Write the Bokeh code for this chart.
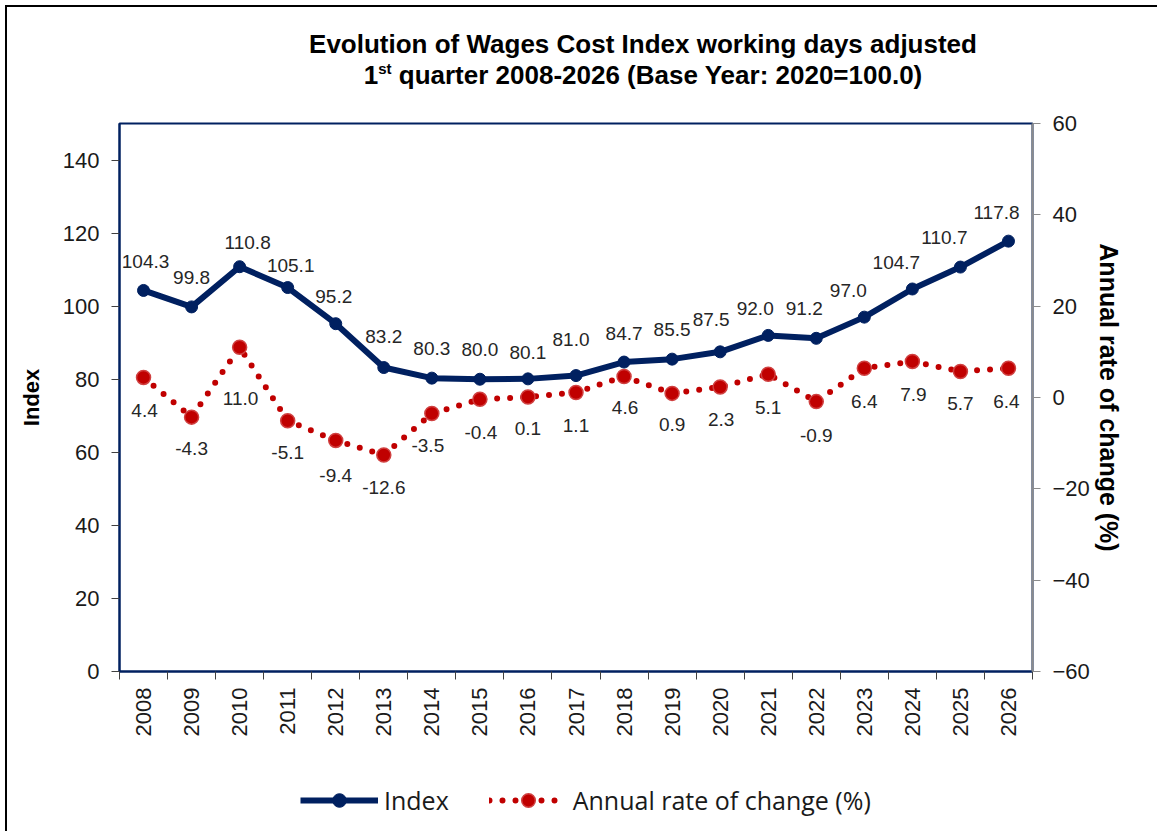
import math
from bokeh.plotting import figure
from bokeh.layouts import column
from bokeh.models import (Range1d, LinearAxis, FixedTicker, Legend,
                          LegendItem, ColumnDataSource, Div)
from bokeh.core.properties import value
from bokeh.embed import file_html
from bokeh.resources import INLINE

# ---------------- data ----------------
years = ["2008", "2009", "2010", "2011", "2012", "2013", "2014", "2015", "2016",
         "2017", "2018", "2019", "2020", "2021", "2022", "2023", "2024", "2025", "2026"]
index_values = [104.3, 99.8, 110.8, 105.1, 95.2, 83.2, 80.3, 80.0, 80.1, 81.0,
                84.7, 85.5, 87.5, 92.0, 91.2, 97.0, 104.7, 110.7, 117.8]
rate_values = [4.4, -4.3, 11.0, -5.1, -9.4, -12.6, -3.5, -0.4, 0.1, 1.1,
               4.6, 0.9, 2.3, 5.1, -0.9, 6.4, 7.9, 5.7, 6.4]
left_ticks = [0, 20, 40, 60, 80, 100, 120, 140]
right_ticks = [-60, -40, -20, 0, 20, 40, 60]
title_line1 = "Evolution of Wages Cost Index working days adjusted"
title_line2_num = "1"
title_line2_sup = "st"
title_line2_rest = "quarter 2008-2026 (Base Year: 2020=100.0)"
series_names = ["Index", "Annual rate of change (%)"]

# label placement (screen pixels)
index_label_dx = [2, 0, 8, 3, -2, 0, 0, 0, 0, -5, 0, 0, -9, -13, -12, -16, -16, -16, -12]
index_label_dy = [-29, -29, -24, -22, -27, -31, -30, -30, -26, -36, -29, -30, -32, -27, -30, -27, -26, -30, -29]
rate_label_dx = [1, 0, 1, 0, 0, 0, -4, 1, 0, 0, 1, 0, 1, 0, 0, 0, 1, 0, -2]
rate_label_dy = [33, 31, 51, 32, 35, 32, 32, 33, 31, 33, 31, 31, 33, 33, 34, 33, 33, 32, 33]

NAVY = "#002060"
RED = "#C00000"
FONT = "Liberation Sans"
TXT = "#1a1a1a"

xs = list(range(len(years)))

# ---------------- title ----------------
title_html = (
    '<div style="padding-top:22px; margin-left:286px; width:700px; text-align:center; '
    'white-space:nowrap; font-family:\'Liberation Sans\', Arial, sans-serif; font-weight:bold; '
    'font-size:26px; line-height:31px; color:#000;">'
    f'{title_line1}<br>{title_line2_num}'
    f'<span style="font-size:15px; position:relative; top:-10px;">{title_line2_sup}</span> '
    f'{title_line2_rest}</div>'
)
title_div = Div(text=title_html, width=1145, height=90, margin=0)

# ---------------- main chart ----------------
p = figure(frame_width=913, frame_height=548,
           min_border_left=112, min_border_right=125,
           min_border_top=26, min_border_bottom=80,
           x_range=Range1d(-0.5, len(years) - 0.5), y_range=Range1d(0, 150),
           x_axis_type=None, y_axis_type=None,
           output_backend="svg", toolbar_location=None, margin=0)
p.extra_y_ranges = {"rate": Range1d(-60, 60)}
p.outline_line_color = NAVY
p.outline_line_width = 2
p.background_fill_color = "white"
p.border_fill_color = "white"

la = LinearAxis(ticker=FixedTicker(ticks=left_ticks), axis_label=series_names[0])
la.axis_line_color = NAVY
la.axis_line_width = 2
la.major_tick_out = 8
la.major_tick_in = 0
la.minor_tick_out = 0
la.major_tick_line_color = "#404040"
la.major_label_standoff = 12
la.major_label_text_font = FONT
la.major_label_text_font_size = "22px"
la.major_label_text_color = TXT
la.axis_label_text_font = FONT
la.axis_label_text_font_size = "22px"
la.axis_label_text_font_style = "bold"
la.axis_label_text_color = "#000000"
la.axis_label_standoff = 16
p.add_layout(la, "left")

xa = LinearAxis(ticker=FixedTicker(ticks=xs, minor_ticks=[k - 0.5 for k in range(len(years) + 1)]))
xa.major_label_overrides = {i: y for i, y in zip(xs, years)}
xa.major_label_orientation = math.pi / 2
xa.major_tick_out = 0
xa.major_tick_in = 0
xa.minor_tick_out = 8
xa.minor_tick_in = 0
xa.minor_tick_line_color = "#404040"
xa.axis_line_color = NAVY
xa.axis_line_width = 2
xa.major_label_standoff = 8
xa.major_label_text_font = FONT
xa.major_label_text_font_size = "22px"
xa.major_label_text_color = TXT
p.add_layout(xa, "below")

ra = LinearAxis(y_range_name="rate", ticker=FixedTicker(ticks=right_ticks),
                axis_label=series_names[1])
ra.axis_line_color = "#8c8c8c"
ra.axis_line_width = 2
ra.major_tick_out = 8
ra.major_tick_in = 0
ra.minor_tick_out = 0
ra.major_tick_line_color = "#8c8c8c"
ra.major_label_standoff = 12
ra.major_label_text_font = FONT
ra.major_label_text_font_size = "22px"
ra.major_label_text_color = TXT
ra.axis_label_text_font = FONT
ra.axis_label_text_font_size = "25px"
ra.axis_label_text_font_style = "bold"
ra.axis_label_text_color = "#000000"
ra.axis_label_standoff = 2
p.add_layout(ra, "right")

idx_src = ColumnDataSource(dict(x=xs, y=index_values,
                                lab=[f"{v:.1f}" for v in index_values],
                                dx=index_label_dx, dy=index_label_dy))
rate_src = ColumnDataSource(dict(x=xs, y=rate_values,
                                 lab=[f"{v:.1f}" for v in rate_values],
                                 dx=rate_label_dx, dy=rate_label_dy))

RATE_LINE = dict(line_color=RED, line_width=6, line_dash="0 13", line_cap="round")
RATE_PTS = dict(fill_color=RED, line_color="#d04040", line_width=1.5)
IDX_LINE = dict(line_color=NAVY, line_width=6, line_join="round")
IDX_PTS = dict(fill_color=NAVY, line_color=NAVY)

p.line("x", "y", source=rate_src, y_range_name="rate", **RATE_LINE)
p.scatter("x", "y", source=rate_src, y_range_name="rate", size=14, **RATE_PTS)
p.line("x", "y", source=idx_src, **IDX_LINE)
p.scatter("x", "y", source=idx_src, size=12, **IDX_PTS)

p.text("x", "y", text="lab", source=idx_src, x_offset="dx", y_offset="dy",
       text_align="center", text_baseline="middle", text_font=value(FONT),
       text_font_size="19px", text_color="#262626")
p.text("x", "y", text="lab", source=rate_src, y_range_name="rate",
       x_offset="dx", y_offset="dy",
       text_align="center", text_baseline="middle", text_font=value(FONT),
       text_font_size="19px", text_color="#262626")

# ---------------- legend strip ----------------
# the legend lives in its own strip; its renderers share the series' data but the
# strip's ranges keep them out of view, so only the legend swatches are drawn
lf = figure(width=1145, height=80, x_range=Range1d(1000, 1001), y_range=Range1d(1000, 1001),
            x_axis_type=None, y_axis_type=None, min_border=0,
            output_backend="svg", toolbar_location=None, margin=0)
lf.outline_line_color = None
lf.background_fill_color = "white"
lf.border_fill_color = "white"
l_idx_line = lf.line("x", "y", source=idx_src, **IDX_LINE)
l_idx_pts = lf.scatter("x", "y", source=idx_src, size=12, **IDX_PTS)
l_rate_line = lf.line("x", "y", source=rate_src, **RATE_LINE)
l_rate_pts = lf.scatter("x", "y", source=rate_src, size=14, **RATE_PTS)

legend = Legend(items=[LegendItem(label=series_names[0], renderers=[l_idx_line, l_idx_pts], index=0),
                       LegendItem(label=series_names[1], renderers=[l_rate_line, l_rate_pts], index=0)],
                location=(181, 14), orientation="horizontal",
                glyph_width=78, glyph_height=34, label_standoff=6, spacing=40,
                padding=0, margin=0, border_line_color=None,
                background_fill_alpha=0,
                label_text_font="Open Sans", label_text_font_size="25px",
                label_text_color="#1a1a1a")
lf.add_layout(legend)

layout = column(title_div, p, lf, spacing=0,
                styles={"margin-left": "5px", "margin-top": "5px",
                        "border-top": "2px solid #000", "border-left": "2px solid #000"})

open("out.html", "w").write(file_html(layout, INLINE))
